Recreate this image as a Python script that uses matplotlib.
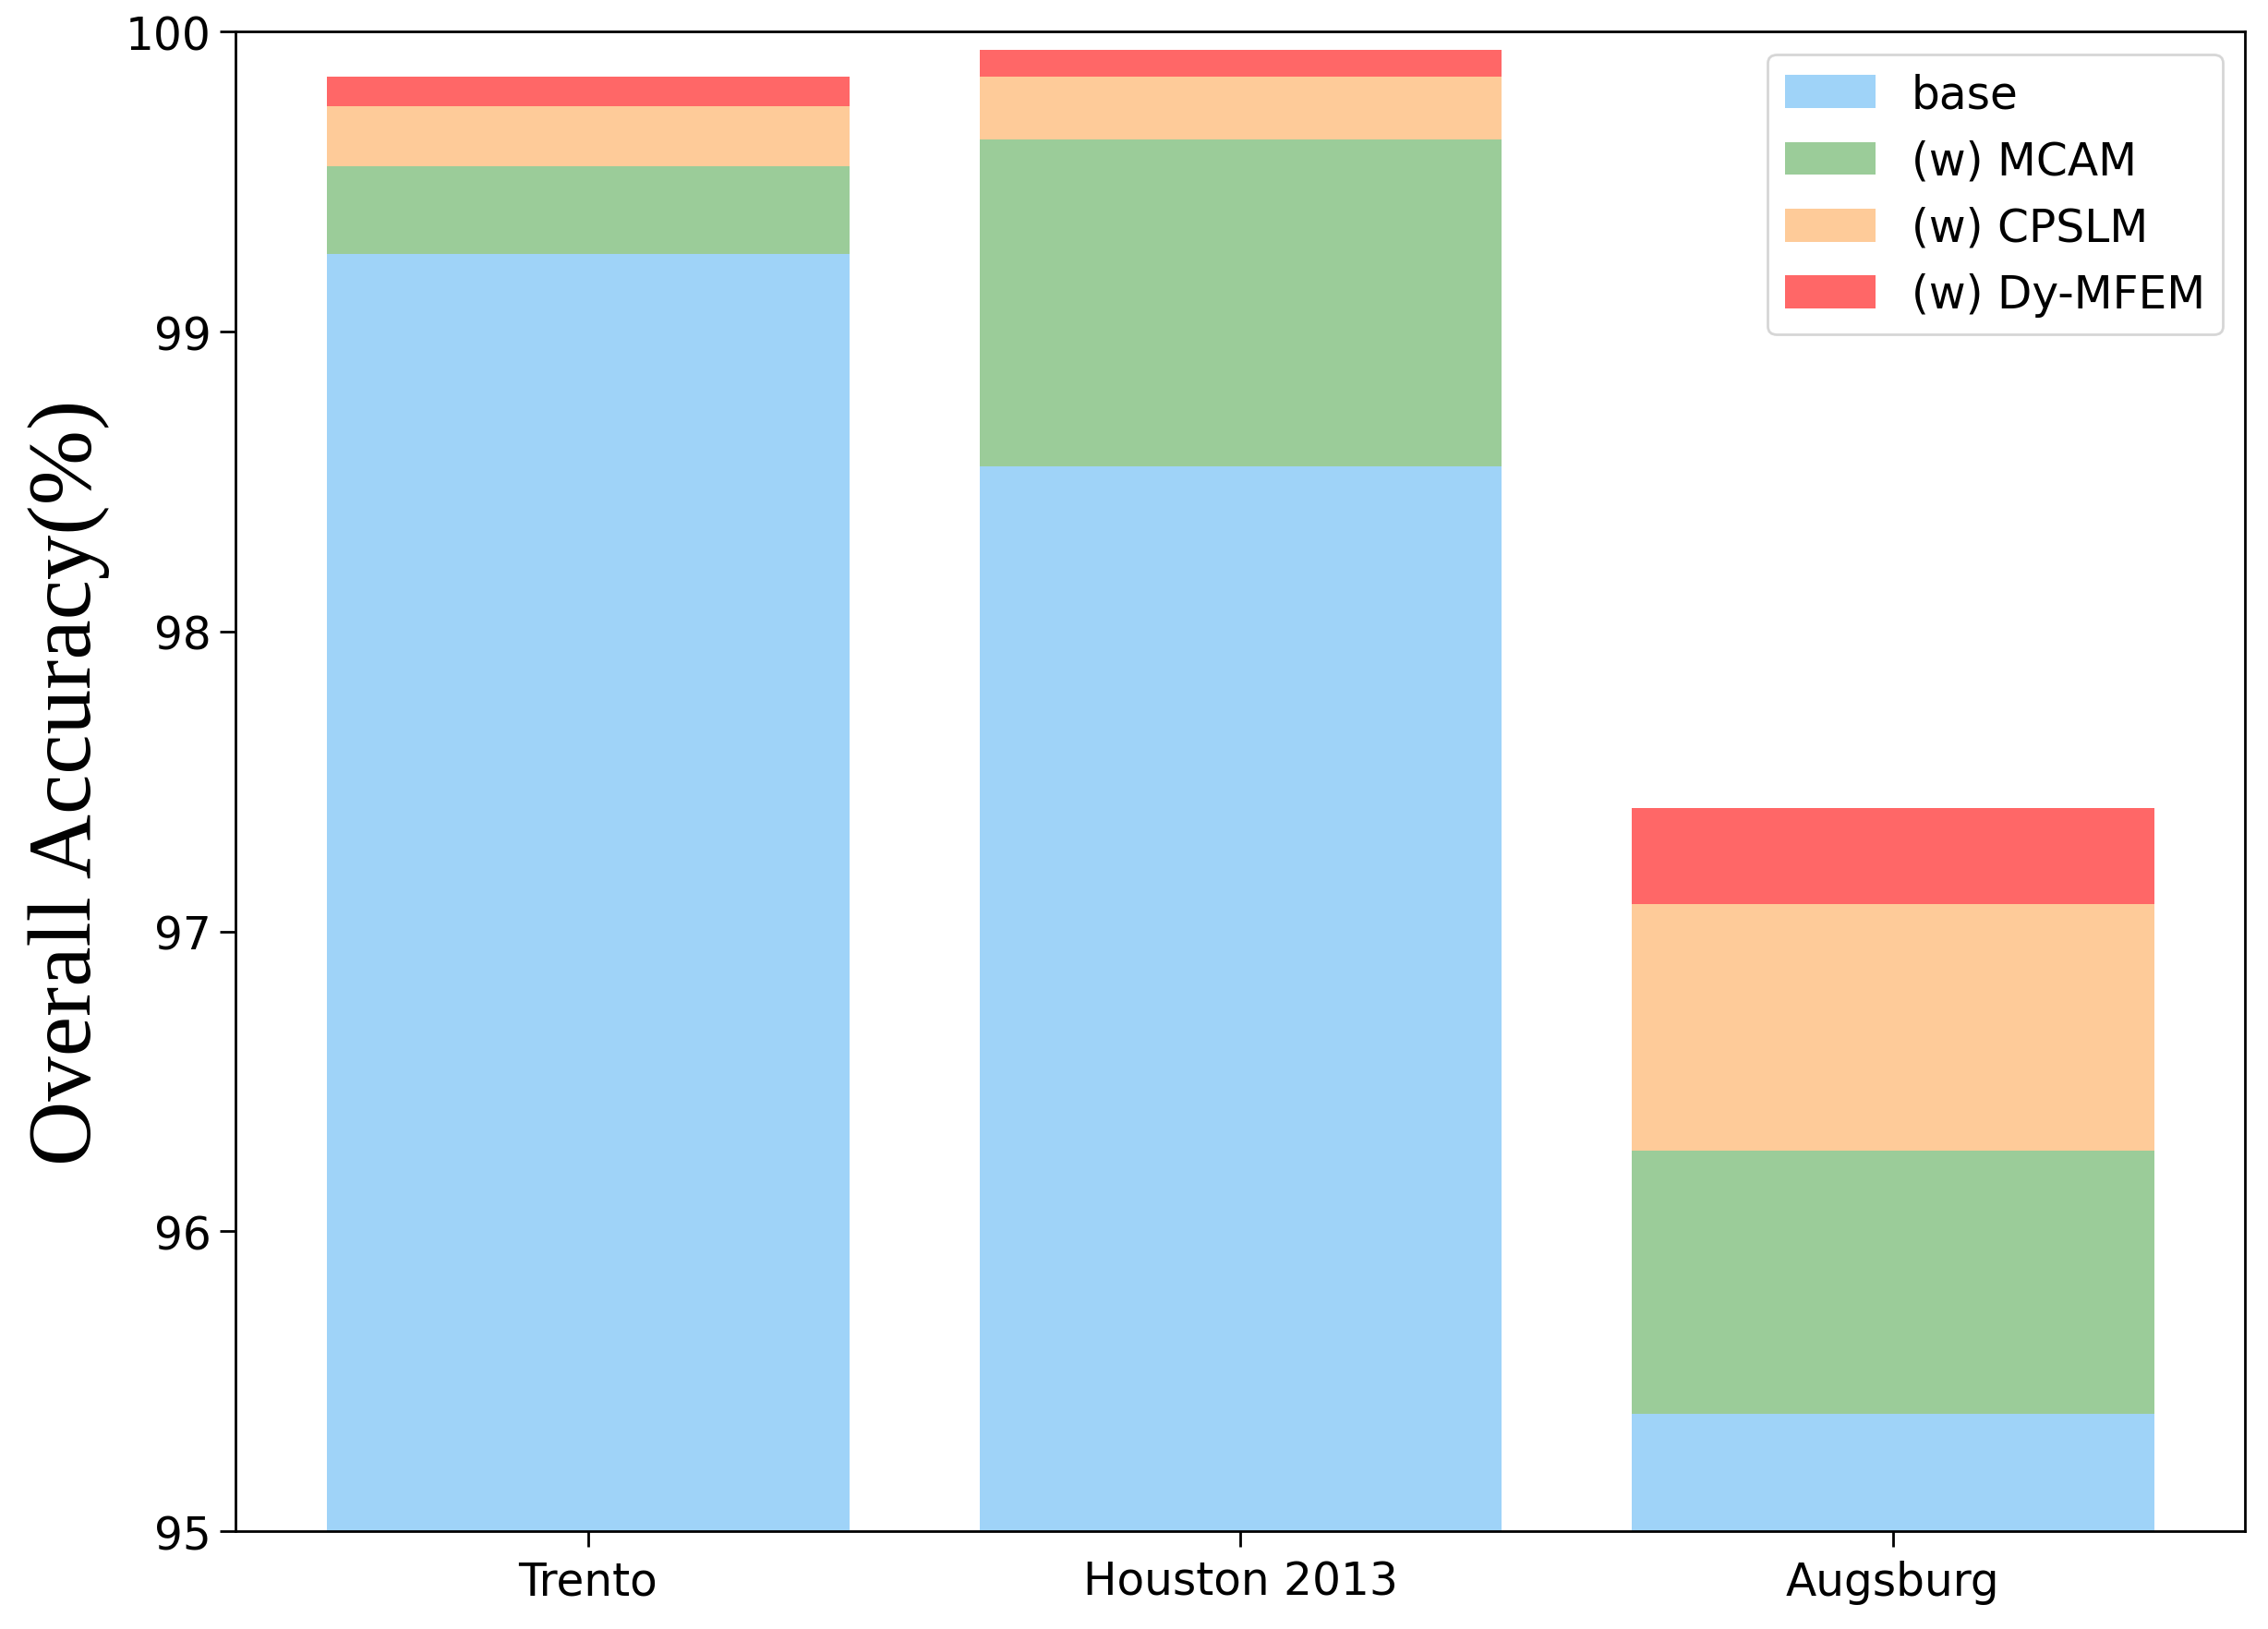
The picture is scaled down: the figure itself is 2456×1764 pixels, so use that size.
import matplotlib
matplotlib.use("Agg")
import matplotlib.pyplot as plt
import numpy as np

# cumulative overall accuracy (%) after adding each module
datasets = ["Trento", "Houston 2013", "Augsburg"]
base = [99.26, 98.55, 95.39]
with_mcam = [99.55, 99.64, 96.27]
with_cpslm = [99.75, 99.85, 97.09]
with_dymfem = [99.85, 99.94, 97.41]

series_names = ["base", "(w) MCAM", "(w) CPSLM", "(w) Dy-MFEM"]
COLORS = ["#9fd3f8", "#9bcc99", "#fecb99", "#ff6767"]

fig = plt.figure(figsize=(12.28, 8.825), dpi=200)
ax = fig.add_axes([0.104, 0.060, 0.886, 0.920])

x = np.arange(len(datasets))
levels = [np.full(len(datasets), 95.0), base, with_mcam, with_cpslm, with_dymfem]
for i, name in enumerate(series_names):
    lo = np.asarray(levels[i])
    hi = np.asarray(levels[i + 1])
    ax.bar(x, hi - lo, bottom=lo, width=0.8, color=COLORS[i], label=name)

ax.set_ylim(95, 100)
ax.set_yticks([95, 96, 97, 98, 99, 100])
ax.set_xticks(x)
ax.set_xticklabels(datasets)
ax.tick_params(labelsize=17.5, length=6, width=1.0)
ax.tick_params(axis="x", pad=5)
for spine in ax.spines.values():
    spine.set_linewidth(1.0)

ax.set_ylabel("Overall Accuracy(%)", fontsize=35, family="Liberation Serif", labelpad=6)

ax.legend(loc="upper right", fontsize=17.5, handlelength=2.0, handleheight=0.75,
          labelspacing=0.5, borderpad=0.4, handletextpad=0.8)

fig.savefig("out.png", dpi=200)
